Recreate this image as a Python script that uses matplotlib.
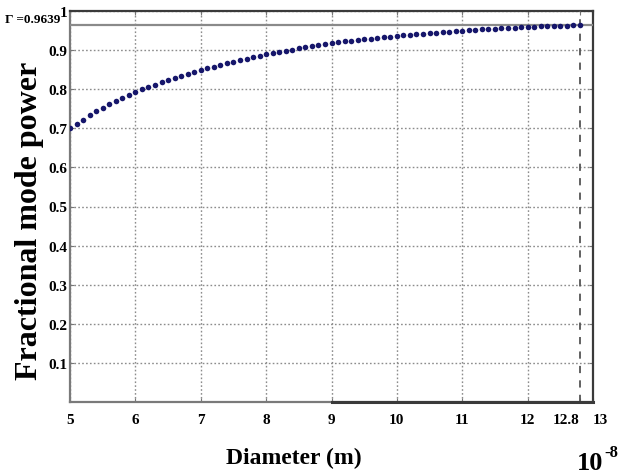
import matplotlib
matplotlib.use("Agg")
import matplotlib.pyplot as plt

# ---- data ----
diameter = [5.0, 5.1, 5.2, 5.3, 5.4, 5.5, 5.6, 5.7, 5.8, 5.9,
            6.0, 6.1, 6.2, 6.3, 6.4, 6.5, 6.6, 6.7, 6.8, 6.9,
            7.0, 7.1, 7.2, 7.3, 7.4, 7.5, 7.6, 7.7, 7.8, 7.9,
            8.0, 8.1, 8.2, 8.3, 8.4, 8.5, 8.6, 8.7, 8.8, 8.9,
            9.0, 9.1, 9.2, 9.3, 9.4, 9.5, 9.6, 9.7, 9.8, 9.9,
            10.0, 10.1, 10.2, 10.3, 10.4, 10.5, 10.6, 10.7, 10.8, 10.9,
            11.0, 11.1, 11.2, 11.3, 11.4, 11.5, 11.6, 11.7, 11.8, 11.9,
            12.0, 12.1, 12.2, 12.3, 12.4, 12.5, 12.6, 12.7, 12.8]
fraction = [0.7000, 0.7115, 0.7225, 0.7330, 0.7430, 0.7525, 0.7615, 0.7700, 0.7780, 0.7855,
            0.7925, 0.7993, 0.8058, 0.8120, 0.8179, 0.8236, 0.8291, 0.8344, 0.8395, 0.8444,
            0.8491, 0.8536, 0.8580, 0.8623, 0.8664, 0.8704, 0.8743, 0.8781, 0.8818, 0.8854,
            0.8889, 0.8922, 0.8954, 0.8985, 0.9015, 0.9044, 0.9073, 0.9101, 0.9128, 0.9154,
            0.9179, 0.9200, 0.9220, 0.9240, 0.9259, 0.9277, 0.9295, 0.9312, 0.9328, 0.9344,
            0.9359, 0.9374, 0.9389, 0.9403, 0.9417, 0.9431, 0.9445, 0.9459, 0.9472, 0.9485,
            0.9498, 0.9509, 0.9519, 0.9529, 0.9539, 0.9548, 0.9557, 0.9566, 0.9575, 0.9583,
            0.9591, 0.9598, 0.9605, 0.9611, 0.9617, 0.9623, 0.9629, 0.9634, 0.9639]
gamma = 0.9639
d_max = 12.8
x_ticks = [5, 6, 7, 8, 9, 10, 11, 12, 12.8, 13]
x_ticklabels = ["5", "6", "7", "8", "9", "10", "11", "12", "12.8", "13"]
y_ticks = [0.1, 0.2, 0.3, 0.4, 0.5, 0.6, 0.7, 0.8, 0.9, 1.0]
y_ticklabels = ["0.1", "0.2", "0.3", "0.4", "0.5", "0.6", "0.7", "0.8", "0.9", "1"]

SERIF = "Liberation Serif"
W, H = 622, 477
fig = plt.figure(figsize=(W / 100, H / 100), dpi=100)
ax = fig.add_axes([70 / W, (H - 403) / H, (593 - 70) / W, (403 - 12) / H])

ax.set_xlim(5, 13)
ax.set_ylim(0, 1)

ax.plot(diameter, fraction, linestyle="none", marker="o", markersize=4.0,
        color="#16166b", markeredgewidth=0, zorder=5)

# reference lines
ax.axhline(gamma, color="#8a8a8a", lw=1.6, zorder=3)
ax.axvline(d_max, color="#555555", lw=1.3, linestyle=(0, (4, 4)), zorder=3)

ax.set_xticks(x_ticks)
ax.set_xticklabels(x_ticklabels)
ax.set_yticks(y_ticks)
ax.set_yticklabels(y_ticklabels)

for lab in ax.get_xticklabels() + ax.get_yticklabels():
    lab.set_fontfamily(SERIF)
    lab.set_fontweight("bold")
    lab.set_fontsize(11)
xl = ax.get_xticklabels()
xl[-2].set_horizontalalignment("right")
xl[-1].set_horizontalalignment("left")

ax.tick_params(axis="both", direction="in", length=3, color="#777777",
               top=True, right=True)
ax.tick_params(axis="x", pad=8)
ax.tick_params(axis="y", pad=2)

ax.grid(True, color="#8c8c8c", linestyle=(0, (1.2, 1.6)), lw=1.0, zorder=1)
gl = ax.get_xgridlines()
gl[x_ticks.index(d_max)].set_visible(False)

for side in ["left", "bottom"]:
    ax.spines[side].set_color("#7a7a7a")
    ax.spines[side].set_linewidth(1.6)
for side in ["top", "right"]:
    ax.spines[side].set_color("#3a3a3a")
    ax.spines[side].set_linewidth(1.6)
ax.plot([9, 13], [0, 0], color="#3a3a3a", lw=2.2, clip_on=False, zorder=6)

fig.text(60 / W, 1 - 20 / H, "Γ =0.9639", ha="right", va="center",
         fontfamily=SERIF, fontweight="bold", fontsize=9.5)

fig.text(294 / W, 1 - 458 / H, "Diameter (m)", ha="center", va="center",
         fontfamily=SERIF, fontweight="bold", fontsize=17)
fig.text(30 / W, 1 - 221 / H, "Fractional mode power", ha="center", va="center",
         rotation=90, fontfamily=SERIF, fontweight="bold", fontsize=23)

fig.text(603 / W, 1 - 470 / H, "10", ha="right", va="baseline",
         fontfamily=SERIF, fontweight="bold", fontsize=19)
fig.text(604 / W, 1 - 457 / H, "-8", ha="left", va="baseline",
         fontfamily=SERIF, fontweight="bold", fontsize=12)

fig.savefig("out.png", dpi=100)
